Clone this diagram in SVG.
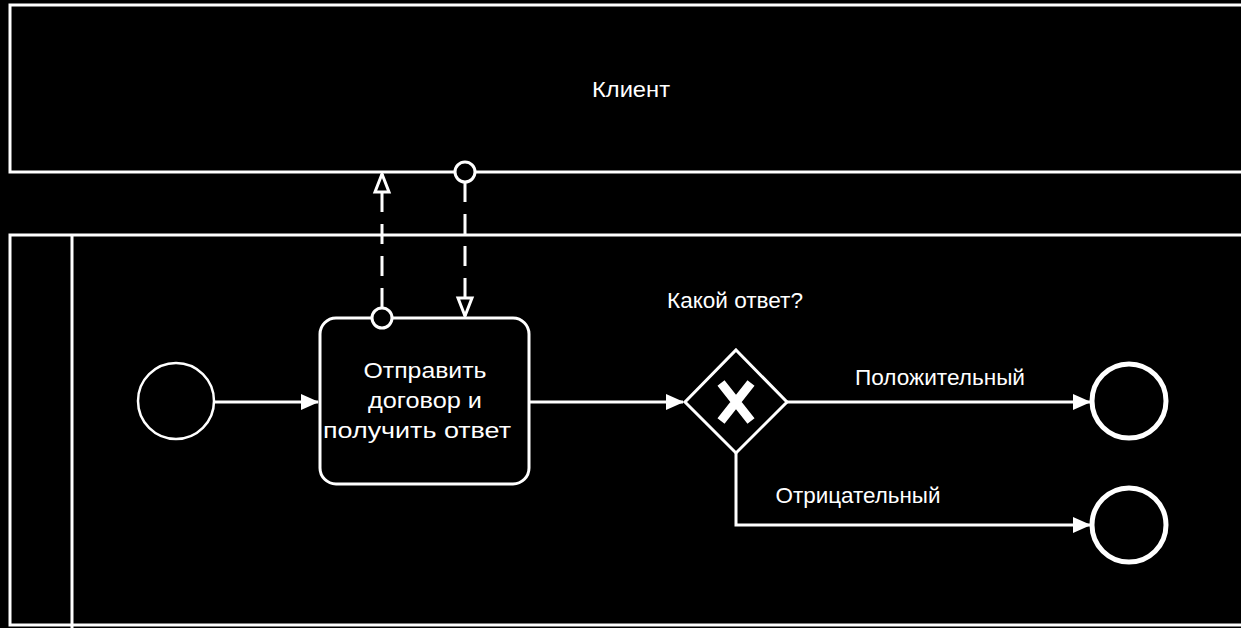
<svg xmlns="http://www.w3.org/2000/svg" width="1241" height="628" viewBox="0 0 1241 628">
<defs>
<style>
.pool{fill:#000;stroke:#fff;stroke-width:3}
.line{fill:none;stroke:#fff;stroke-width:3}
.msg{fill:none;stroke:#fff;stroke-width:3;stroke-dasharray:20 12}
.t{font-family:"Liberation Sans",Arial,sans-serif;font-size:22px;fill:#fff;text-anchor:middle}
</style>
<marker id="arr" markerWidth="18" markerHeight="16" refX="17" refY="8" orient="auto" markerUnits="userSpaceOnUse" viewBox="0 0 18 16">
<path d="M0,0 L18,8 L0,16 Z" fill="#fff"/>
</marker>
<marker id="hollow" markerWidth="22" markerHeight="22" refX="20" refY="11" orient="auto" markerUnits="userSpaceOnUse" viewBox="0 0 22 22">
<path d="M2,4 L20,11 L2,18 Z" fill="#000" stroke="#fff" stroke-width="3"/>
</marker>
</defs>
<rect width="1241" height="628" fill="#000"/>
<g id="pool-client">
<rect class="pool" x="10" y="5" width="1240" height="167"/>
<text class="t" x="631" y="97" textLength="78" lengthAdjust="spacingAndGlyphs">Клиент</text>
</g>
<g id="pool-main">
<rect class="pool" x="10" y="235" width="1240" height="390"/>
<line class="line" x1="72" y1="235" x2="72" y2="628"/>
</g>
<g id="start">
<circle cx="176" cy="401" r="38" fill="#000" stroke="#fff" stroke-width="2.5"/>
</g>
<g id="task">
<rect x="320" y="318" width="209" height="166" rx="16" fill="#000" stroke="#fff" stroke-width="3"/>
<text class="t" x="425" y="378" textLength="123" lengthAdjust="spacingAndGlyphs">Отправить</text>
<text class="t" x="425" y="408" textLength="114" lengthAdjust="spacingAndGlyphs">договор и</text>
<text class="t" x="417" y="438" textLength="188" lengthAdjust="spacingAndGlyphs">получить ответ</text>
</g>
<g id="gateway">
<path d="M736,350 L787,402 L736,453 L685,402 Z" fill="#000" stroke="#fff" stroke-width="3"/>
<path d="M721,383 L751,421 M751,383 L721,421" stroke="#fff" stroke-width="9" stroke-linecap="butt"/>
<text class="t" x="735" y="308" textLength="136" lengthAdjust="spacingAndGlyphs">Какой ответ?</text>
</g>
<g id="end-positive">
<circle cx="1129" cy="401" r="37" fill="#000" stroke="#fff" stroke-width="5"/>
</g>
<g id="end-negative">
<circle cx="1129" cy="525" r="37" fill="#000" stroke="#fff" stroke-width="5"/>
</g>
<g id="connectors">
<line class="line" x1="214" y1="402" x2="318" y2="402" marker-end="url(#arr)"/>
<line class="line" x1="529" y1="402" x2="683" y2="402" marker-end="url(#arr)"/>
<line class="line" x1="787" y1="402" x2="1090" y2="402" marker-end="url(#arr)"/>
<polyline class="line" points="736,453 736,525 1090,525" marker-end="url(#arr)"/>
<text class="t" x="940" y="385" textLength="170" lengthAdjust="spacingAndGlyphs">Положительный</text>
<text class="t" x="858" y="503" textLength="165" lengthAdjust="spacingAndGlyphs">Отрицательный</text>
<line class="msg" x1="382" y1="308" x2="382" y2="174" marker-end="url(#hollow)"/>
<circle cx="382" cy="318" r="10" fill="#000" stroke="#fff" stroke-width="3"/>
<line class="msg" x1="465" y1="182" x2="465" y2="316" marker-end="url(#hollow)"/>
<circle cx="465" cy="172" r="10" fill="#000" stroke="#fff" stroke-width="3"/>
</g>
</svg>
